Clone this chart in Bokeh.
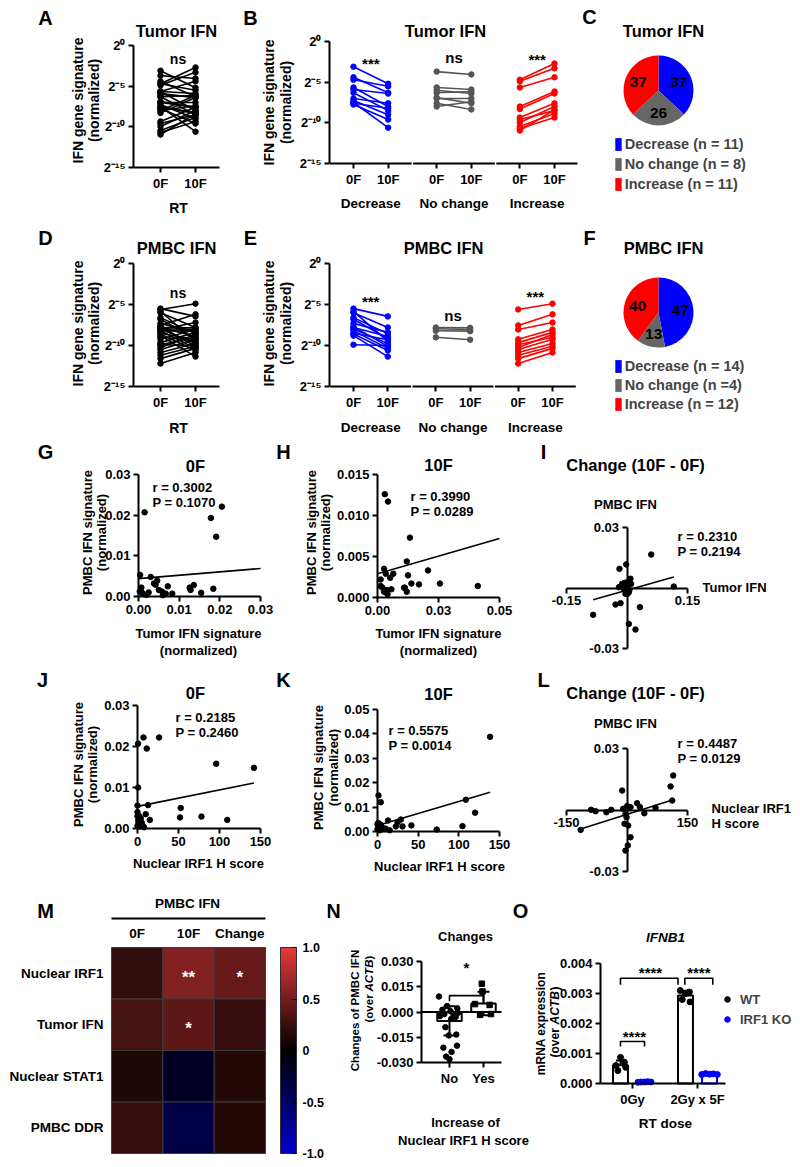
import math
import numpy as np
from bokeh.plotting import figure
from bokeh.layouts import row, column
from bokeh.models import (Range1d, FixedTicker, Label, Legend, LegendItem, Whisker, TeeHead,
                          ColumnDataSource, LinearColorMapper, PrintfTickFormatter,
                          CustomJSTickFormatter)
from bokeh.core.properties import value
from bokeh.embed import file_html
from bokeh.resources import INLINE

FONT = "Liberation Sans"
BLUE = "#0000ff"
RED = "#ff0000"
GRAY = "#555555"
PIE_GRAY = "#666666"
TITLE = 16.5

# ======================= DATA =======================
# log2 of normalized IFN gene signature, paired 0F -> 10F
tumor_dec_0f = [-3.1, -4.4, -4.7, -5.65, -5.9, -6.3, -7.0, -7.25, -7.5, -7.6, -7.75]
tumor_dec_10f = [-5.2, -6.3, -5.5, -8.0, -6.4, -8.5, -7.6, -9.0, -10.6, -8.2, -9.6]
tumor_nc_0f = [-3.7, -5.65, -6.0, -6.3, -6.9, -7.0, -7.6, -8.0]
tumor_nc_10f = [-4.05, -5.9, -6.4, -6.15, -7.6, -7.0, -8.35, -7.4]
tumor_inc_0f = [-4.7, -4.9, -5.65, -8.0, -8.3, -9.35, -9.6, -9.95, -10.45, -10.7, -10.95]
tumor_inc_10f = [-2.7, -3.3, -4.4, -6.15, -6.4, -7.6, -8.5, -8.0, -8.85, -9.35, -8.4]

pmbc_dec_0f = [-5.5, -5.85, -6.0, -6.6, -6.8, -7.3, -7.7, -7.8, -8.0, -8.2, -8.5, -8.6, -8.8, -9.9]
pmbc_dec_10f = [-6.45, -9.5, -7.8, -8.55, -9.15, -8.4, -10.1, -8.9, -9.75, -10.35, -9.3, -10.6, -11.35, -10.0]
pmbc_nc_0f = [-7.8, -7.95, -8.2, -9.0]
pmbc_nc_10f = [-7.85, -8.05, -8.25, -9.3]
pmbc_inc_0f = [-5.6, -7.55, -8.05, -9.25, -9.65, -9.9, -10.25, -10.5, -10.85, -11.2, -11.6, -12.2]
pmbc_inc_10f = [-4.9, -6.2, -7.2, -8.05, -8.4, -9.0, -8.65, -9.25, -9.75, -10.1, -10.35, -10.85]

group_names = ["Decrease", "No change", "Increase"]
time_labels = ["0F", "10F"]
log2_ticks = [-15, -10, -5, 0]
log2_tick_labels = ["2\u207b\u00b9\u2075", "2\u207b\u00b9\u2070", "2\u207b\u2075", "2\u2070"]

tumor_sig = ["***", "ns", "***"]
pmbc_sig = ["***", "ns", "***"]

tumor_pie_pct = [37, 26, 37]
tumor_pie_labels = ["Decrease (n = 11)", "No change (n = 8)", "Increase (n = 11)"]
pmbc_pie_pct = [47, 13, 40]
pmbc_pie_labels = ["Decrease (n = 14)", "No change (n =4)", "Increase (n = 12)"]

# G: 0F tumor vs PMBC
g_tumor = [0.0015, 0.0205, 0.0178, 0.0191, 0.0004, 0.0030, 0.0007, 0.0012, 0.0038, 0.0042,
           0.0046, 0.0050, 0.0058, 0.0067, 0.0072, 0.0083, 0.0126, 0.0128, 0.0136, 0.0154,
           0.0184, 0.0003, 0.0009, 0.0020, 0.0025, 0.0060]
g_pmbc = [0.0207, 0.0221, 0.0193, 0.0147, 0.0053, 0.0048, 0.0022, 0.0006, 0.0032, 0.0029,
          0.0039, 0.0016, 0.0012, 0.0007, 0.0025, 0.0007, 0.0022, 0.0016, 0.0028, 0.0009,
          0.0019, 0.0012, 0.0009, 0.0004, 0.0010, 0.0003]
g_fit = [0.0044, 0.083]
g_stats = ["r = 0.3002", "P = 0.1070"]

# H: 10F tumor vs PMBC
h_tumor = [0.0030, 0.0043, 0.0133, 0.0120, 0.0027, 0.0013, 0.0034, 0.0065, 0.0052, 0.0125,
           0.0139, 0.0112, 0.0120, 0.0020, 0.0027, 0.0041, 0.0057, 0.0013, 0.0039, 0.0207,
           0.0170, 0.0256, 0.0411, 0.0109]
h_pmbc = [0.0126, 0.0117, 0.0073, 0.0044, 0.0035, 0.0022, 0.0029, 0.0029, 0.0024, 0.0027,
          0.0017, 0.0012, 0.0007, 0.0012, 0.0007, 0.0004, 0.0010, 0.0014, 0.0009, 0.0033,
          0.0016, 0.0017, 0.0014, 0.0012]
h_fit = [0.0029, 0.0857]
h_stats = ["r = 0.3990", "P = 0.0289"]

# I: change tumor vs change PMBC
i_tumor = [0.060, -0.0186, -0.002, 0.0087, 0.0005, -0.012, -0.020, -0.008, 0.0045, -0.0037,
           0.116, -0.0285, -0.016, 0.032, -0.084, 0.0045, 0.021, 0.002, -0.004, 0.006,
           -0.001, 0.010, -0.006, 0.001]
i_pmbc = [0.0166, 0.0095, 0.0117, 0.0046, 0.0029, 0.0021, 0.0004, -0.0004, -0.0021, -0.0029,
          0.0007, -0.0082, -0.0075, -0.0095, -0.0133, -0.0178, -0.0206, 0.0010, 0.0015, -0.0010,
          -0.0005, 0.0020, 0.0025, -0.0030]
i_fit = [-0.0011, 0.0568]
i_stats = ["r = 0.2310", "P = 0.2194"]

# J: nuclear IRF1 H score vs PMBC IFN at 0F
j_irf1 = [0.7, 7.3, 11.3, 26.3, 96, 142, 0.7, 0, 12.9, 10, 15, 52.7, 51.9, 78, 109.5,
          0, 0, 1, 2, 3, 5, 6, 8, 4, 1, 0, 2]
j_pmbc = [0.0207, 0.0222, 0.0195, 0.0222, 0.0158, 0.0148, 0.0100, 0.0056, 0.0057, 0.0035,
          0.0021, 0.0050, 0.0027, 0.0029, 0.0021, 0.0040, 0.0030, 0.0020, 0.0010, 0.0005,
          0.0015, 0.0008, 0.0003, 0.0025, 0.0012, 0.0006, 0.0030]
j_fit = [0.0054, 0.000040]
j_stats = ["r = 0.2185", "P = 0.2460"]

# K: 10F
k_irf1 = [1.2, 4, 13, 24.6, 28.7, 22.5, 30.7, 41.7, 72.9, 138.4, 108.6, 120, 104.5,
          0, 1, 2, 0, 3, 5, 8, 1, 4, 10, 15]
k_pmbc = [0.0148, 0.0120, 0.0045, 0.0038, 0.0049, 0.0021, 0.0021, 0.0025, 0.0008, 0.0388,
          0.0130, 0.0077, 0.0022, 0.0030, 0.0020, 0.0015, 0.0010, 0.0005, 0.0020, 0.0010,
          0.0035, 0.0028, 0.0012, 0.0005]
k_fit = [0.0025, 0.000098]
k_stats = ["r = 0.5575", "P = 0.0014"]

# L: change
l_irf1 = [114.5, 108, 112, -12, 25, -89, -78, -51, -39, -9.5, 0.5, 8.7, 32, 43, 70.7,
          -3.7, -1.2, -6.2, 3, 8.7, -115, 2, -3.7]
l_pmbc = [0.0168, 0.0115, 0.0046, 0.0095, 0.0033, 0.0001, -0.0006, -0.0011, 0.0001, 0.0006,
          0.0019, 0.0014, 0.0014, -0.0016, 0.0011, -0.0019, -0.0035, -0.0067, -0.0076, -0.0133,
          -0.0097, -0.0173, -0.0198]
l_fit = [-0.0021, 0.0000619]
l_stats = ["r = 0.4487", "P = 0.0129"]

# M: correlation heatmap (r)
heat_rows = ["Nuclear IRF1", "Tumor IFN", "Nuclear STAT1", "PMBC DDR"]
heat_cols = ["0F", "10F", "Change"]
heat_r = [[0.2185, 0.5575, 0.4487],
          [0.3002, 0.3990, 0.2310],
          [0.13, -0.18, 0.16],
          [0.24, -0.35, 0.16]]
heat_sig = [["", "**", "*"],
            ["", "*", ""],
            ["", "", ""],
            ["", "", ""]]
cbar_ticks = [-1, -0.5, 0, 0.5, 1]

# N: change of PMBC IFN by IRF1 increase
n_groups = ["No", "Yes"]
n_mean = [-0.0053, 0.0050]
n_sd = [0.0087, 0.0070]
n_no = [0.0092, 0.0035, 0.0022, 0.0013, 0.0005, -0.0005, -0.0012, -0.0017, -0.0024, -0.0030,
        -0.0041, -0.0090, -0.0134, -0.0139, -0.0200, -0.0212, -0.0237, -0.0265, -0.0280]
n_no_dx = [-0.31, -0.07, 0.23, -0.21, 0.03, 0.25, -0.15, 0.12, -0.28, 0.18,
           0.05, -0.12, 0.20, -0.02, 0.22, -0.18, 0.06, -0.10, 0.0]
n_yes = [0.0168, 0.0122, 0.0047, 0.0042, -0.0012, -0.0017]
n_yes_dx = [-0.05, -0.03, -0.25, 0.18, 0.22, -0.10]

# O: IFNB1 mRNA
o_groups = ["0Gy", "2Gy x 5F"]
o_wt_mean = [0.00061, 0.00293]
o_wt_sd = [0.00016, 0.00016]
o_ko_mean = [0.00005, 0.00031]
o_ko_sd = [0.00001, 0.00002]
o_wt_pts = [[0.00087, 0.00071, 0.00060, 0.00054, 0.00043],
            [0.00310, 0.00305, 0.00300, 0.00280, 0.00272]]
o_ko_pts = [[0.00004, 0.00005, 0.00005, 0.00006, 0.00005],
            [0.00030, 0.00033, 0.00031, 0.00032, 0.00030]]
o_wt_dx = [[0.0, 0.06, -0.07, 0.08, -0.04], [-0.08, 0.06, 0.0, -0.05, 0.07]]
o_ko_dx = [[-0.10, -0.05, 0.0, 0.05, 0.10], [-0.12, -0.06, 0.0, 0.06, 0.12]]


# ======================= HELPERS =======================
class Panel:
    """A figure whose plotting frame is its whole canvas; page pixel <-> data maps."""

    def __init__(self, ox, oy, W, H, xmap, ymap, **kw):
        self.ox, self.oy, self.W, self.H = ox, oy, W, H
        self.xmap, self.ymap = xmap, ymap
        xr = Range1d(self.X(ox), self.X(ox + W))
        yr = Range1d(self.Y(oy + H), self.Y(oy))
        p = figure(width=W, height=H, x_range=xr, y_range=yr, output_backend="svg",
                   toolbar_location=None, min_border=0, min_border_left=0,
                   min_border_right=0, min_border_top=0, min_border_bottom=0, **kw)
        p.title.visible = False
        p.outline_line_color = None
        p.grid.visible = False
        p.background_fill_color = "white"
        p.border_fill_color = "white"
        self.p = p

    def X(self, px):
        p0, v0, p1, v1 = self.xmap
        return v0 + (px - p0) * (v1 - v0) / (p1 - p0)

    def Y(self, py):
        p0, v0, p1, v1 = self.ymap
        return v0 + (py - p0) * (v1 - v0) / (p1 - p0)

    def txt(self, x, y, s, size=13, align="center", angle=0.0, style_="bold", color="black"):
        self.p.add_layout(Label(x=x - self.ox, y=self.oy + self.H - y, x_units="screen",
                                y_units="screen", text=s, text_font=FONT,
                                text_font_style=style_, text_font_size=f"{size}px",
                                text_align=align, text_baseline="middle", angle=angle,
                                text_color=color))

    def axes(self, x_at, xb, y_at, yb, size=13, standoff=3):
        p = self.p
        for ax in p.axis:
            ax.axis_line_width = 2
            ax.axis_line_color = "black"
            ax.major_tick_line_width = 2
            ax.major_tick_line_color = "black"
            ax.major_tick_out = 5
            ax.major_tick_in = 0
            ax.minor_tick_line_color = None
            ax.major_label_text_font = FONT
            ax.major_label_text_font_style = "bold"
            ax.major_label_text_font_size = f"{size}px"
            ax.major_label_text_color = "black"
            ax.major_label_standoff = standoff
        p.xaxis.fixed_location = x_at
        p.xaxis.bounds = xb
        p.yaxis.fixed_location = y_at
        p.yaxis.bounds = yb


def dlabel(p, x, y, s, size=14, color="black"):
    p.add_layout(Label(x=x, y=y, text=s, text_font=FONT, text_font_style="bold",
                       text_font_size=f"{size}px", text_align="center", text_baseline="middle",
                       text_color=color))


def paired(p, x0, x1, v0, v1, color):
    p.multi_line(xs=[[x0, x1] for _ in v0], ys=[[a, b] for a, b in zip(v0, v1)],
                 line_color=color, line_width=1.6)
    p.scatter(x=[x0] * len(v0) + [x1] * len(v1), y=list(v0) + list(v1), size=5.5, color=color)


def corr(p, xv, yv, fit, xext):
    p.scatter(xv, yv, size=5.5, color="black")
    xs = np.array(xext, dtype=float)
    p.line(xs, fit[0] + fit[1] * xs, line_width=1.6, color="black")


def log_axis(p):
    p.yaxis.ticker = FixedTicker(ticks=log2_ticks)
    p.yaxis.major_label_overrides = dict(zip(log2_ticks, log2_tick_labels))


# ---------- paired panel (A / D) ----------
def panel_all(oy, H, y_top, y_bot, letter, title, all0, all1, sig_y, lab_y, rt_y, letter_y,
              title_y):
    P = Panel(0, oy, 240, H, (160, 0, 195, 1), (y_top, 0, y_bot, -15))
    p = P.p
    P.axes(-15, (P.X(133), P.X(219)), P.X(133), (-15, 0))
    log_axis(p)
    p.xaxis.ticker = FixedTicker(ticks=[0, 1])
    p.xaxis.major_label_overrides = {0: time_labels[0], 1: time_labels[1]}
    paired(p, 0, 1, all0, all1, "black")
    dlabel(p, 0.5, P.Y(sig_y), "ns", 14)
    P.txt(45, letter_y, letter, 20)
    P.txt(176, title_y, title, TITLE)
    P.txt(77, lab_y, "IFN gene signature", 14, angle=math.pi / 2)
    P.txt(93, lab_y, "(normalized)", 14, angle=math.pi / 2)
    P.txt(178, rt_y, "RT", 14)
    return p


GSTEP, PGAP = 24, 10


def panel_groups(oy, H, y_top, y_bot, x_last, x_end, letter, title, title_x, groups0, groups1,
                 sig, sig_px, lab_y, grp_y, letter_y, title_y):
    P = Panel(240, oy, 340, H, (353, 0, x_last, 2 * GSTEP + PGAP), (y_top, 0, y_bot, -15))
    p = P.p
    xa, xb = P.X(329), P.X(x_end)
    P.axes(-15, (xa, xb), xa, (-15, 0))
    log_axis(p)
    ticks, over = [], {}
    for k in range(3):
        ticks += [k * GSTEP, k * GSTEP + PGAP]
        over[k * GSTEP] = time_labels[0]
        over[k * GSTEP + PGAP] = time_labels[1]
    p.xaxis.ticker = FixedTicker(ticks=ticks)
    p.xaxis.major_label_overrides = over
    p.xaxis.axis_line_color = None
    centers = [k * GSTEP + PGAP / 2 for k in range(3)]
    half = 11.8
    x0s = [max(c - half, xa) for c in centers]
    x1s = [min(c + half, xb) for c in centers]
    p.segment(x0=x0s, y0=[-15] * 3, x1=x1s, y1=[-15] * 3, line_width=2, line_color="black")
    for k, col in enumerate([BLUE, GRAY, RED]):
        paired(p, k * GSTEP, k * GSTEP + PGAP, groups0[k], groups1[k], col)
        dlabel(p, centers[k], P.Y(sig_px[k]), sig[k], 15)
    inv = (x_last - 353) / (2 * GSTEP + PGAP)
    for k in range(3):
        P.txt(353 + centers[k] * inv, grp_y, group_names[k], 13.5)
    P.txt(250, letter_y, letter, 20)
    P.txt(title_x, title_y, title, TITLE)
    P.txt(268, lab_y, "IFN gene signature", 14, angle=math.pi / 2)
    P.txt(285, lab_y, "(normalized)", 14, angle=math.pi / 2)
    return p


def panel_pie(oy, H, cy, letter, title, pct, labels, letter_y, title_y, leg_top, leg_h):
    P = Panel(580, oy, 218, H, (658, 0, 693, 1), (cy, 0, cy - 35, 1))
    p = P.p
    p.axis.visible = False
    cum = np.cumsum([0] + pct)
    starts = [math.radians(90 - 3.6 * c) for c in cum[:-1]]
    ends = [math.radians(90 - 3.6 * c) for c in cum[1:]]
    src = ColumnDataSource(dict(start=starts, end=ends, color=[BLUE, PIE_GRAY, RED]))
    r = p.wedge(x=0, y=0, radius=1, start_angle="start", end_angle="end", direction="clock",
                fill_color="color", line_color=None, source=src)
    mids = [(a + b) / 2 for a, b in zip(starts, ends)]
    p.text(x=[0.63 * math.cos(m) for m in mids], y=[0.63 * math.sin(m) for m in mids],
           text=[str(v) for v in pct], text_font=value(FONT), text_font_style="bold",
           text_font_size="15.5px", text_align="center", text_baseline="middle",
           text_color="black")
    items = [LegendItem(label=l, renderers=[r], index=i) for i, l in enumerate(labels)]
    leg = Legend(items=items, location=(613.7 - 580, (oy + H) - (leg_top + 3 * leg_h)),
                 orientation="vertical", glyph_width=8, glyph_height=16, label_height=leg_h,
                 label_standoff=3, spacing=0, padding=0, margin=0, border_line_color=None,
                 background_fill_alpha=0, label_text_font=FONT, label_text_font_style="bold",
                 label_text_font_size="14.5px")
    p.add_layout(leg)
    P.txt(589, letter_y, letter, 20)
    P.txt(663, title_y, title, TITLE)
    return p


# ======================= ROW 1 / 2 =======================
pA = panel_all(0, 222, 45, 167, "A", "Tumor IFN",
               tumor_dec_0f + tumor_nc_0f + tumor_inc_0f,
               tumor_dec_10f + tumor_nc_10f + tumor_inc_10f, 58, 100, 207, 17, 30)
pB = panel_groups(0, 222, 41, 163, 554, 577, "B", "Tumor IFN", 445,
                  [tumor_dec_0f, tumor_nc_0f, tumor_inc_0f],
                  [tumor_dec_10f, tumor_nc_10f, tumor_inc_10f],
                  tumor_sig, [63, 57, 59], 102, 203, 17, 30)
pC = panel_pie(0, 222, 90, "C", "Tumor IFN", tumor_pie_pct, tumor_pie_labels, 16, 30, 134, 20)

pD = panel_all(222, 218, 263, 386, "D", "PMBC IFN",
               pmbc_dec_0f + pmbc_nc_0f + pmbc_inc_0f,
               pmbc_dec_10f + pmbc_nc_10f + pmbc_inc_10f, 292, 323, 427, 237, 247)
pE = panel_groups(222, 218, 263, 386, 552, 576, "E", "PMBC IFN", 443,
                  [pmbc_dec_0f, pmbc_nc_0f, pmbc_inc_0f],
                  [pmbc_dec_10f, pmbc_nc_10f, pmbc_inc_10f],
                  pmbc_sig, [301, 315, 296], 323, 427, 237, 247)
pF = panel_pie(222, 218, 312, "F", "PMBC IFN", pmbc_pie_pct, pmbc_pie_labels, 237, 247, 356.5, 19)

# ======================= ROW 3 =======================
G = Panel(0, 440, 275, 220, (138, 0, 260, 0.03), (596, 0, 474, 0.03))
G.axes(0, (0, 0.03), 0, (0, 0.03))
G.p.xaxis.ticker = FixedTicker(ticks=[0, 0.01, 0.02, 0.03])
G.p.yaxis.ticker = FixedTicker(ticks=[0, 0.01, 0.02, 0.03])
G.p.xaxis.formatter = PrintfTickFormatter(format="%.2f")
G.p.yaxis.formatter = PrintfTickFormatter(format="%.2f")
corr(G.p, g_tumor, g_pmbc, g_fit, [0, 0.03])
G.txt(45, 451, "G", 20)
G.txt(195, 465, "0F", TITLE)
G.txt(152, 487, g_stats[0], 13, align="left")
G.txt(152, 502, g_stats[1], 13, align="left")
G.txt(87, 532, "PMBC IFN signature", 13, angle=math.pi / 2)
G.txt(101, 532, "(normalized)", 13, angle=math.pi / 2)
G.txt(198, 633, "Tumor IFN signature", 13)
G.txt(198, 650, "(normalized)", 13)

Hh = Panel(275, 440, 255, 220, (377, 0, 499, 0.05), (597, 0, 474, 0.015))
Hh.axes(0, (0, 0.05), 0, (0, 0.015))
Hh.p.xaxis.ticker = FixedTicker(ticks=[0, 0.025, 0.05])
Hh.p.xaxis.formatter = CustomJSTickFormatter(code="return tick.toFixed(2);")
Hh.p.yaxis.ticker = FixedTicker(ticks=[0, 0.005, 0.01, 0.015])
Hh.p.yaxis.formatter = PrintfTickFormatter(format="%.3f")
corr(Hh.p, h_tumor, h_pmbc, h_fit, [0, 0.05])
Hh.txt(283, 451, "H", 20)
Hh.txt(438, 464, "10F", TITLE)
Hh.txt(410, 496, h_stats[0], 13, align="left")
Hh.txt(410, 511, h_stats[1], 13, align="left")
Hh.txt(311, 532, "PMBC IFN signature", 13, angle=math.pi / 2)
Hh.txt(325, 532, "(normalized)", 13, angle=math.pi / 2)
Hh.txt(438, 633, "Tumor IFN signature", 13)
Hh.txt(438, 650, "(normalized)", 13)


def panel_change(oy, y_top, y_bot, letter, xlim, ylim, xv, yv, fit, stats, xfmt, yl_y, stat_y,
                 xlabel_lines, xlabel_x, xlabel_y, letter_y, title_y):
    P = Panel(530, oy, 268, 220, (566, -xlim, 687, xlim), (y_bot, -ylim, y_top, ylim))
    p = P.p
    P.axes(0, (-xlim, xlim), 0, (-ylim, ylim))
    p.xaxis.ticker = FixedTicker(ticks=[-xlim, xlim])
    p.yaxis.ticker = FixedTicker(ticks=[-ylim, ylim])
    p.xaxis.formatter = PrintfTickFormatter(format=xfmt)
    p.yaxis.formatter = PrintfTickFormatter(format="%.2f")
    corr(p, xv, yv, fit, [min(xv), max(xv)])
    P.txt(543, letter_y, letter, 20)
    P.txt(635, title_y, "Change (10F - 0F)", TITLE)
    P.txt(625, yl_y, "PMBC IFN", 13)
    P.txt(677, stat_y, stats[0], 13, align="left")
    P.txt(677, stat_y + 15, stats[1], 13, align="left")
    for k, s in enumerate(xlabel_lines):
        P.txt(xlabel_x, xlabel_y + 15 * k, s, 13, align="left")
    return p


pI = panel_change(440, 527, 648, "I", 0.15, 0.03, i_tumor, i_pmbc, i_fit, i_stats, "%.2f",
                  504, 536, ["Tumor IFN"], 702, 587, 451, 464)

# ======================= ROW 4 =======================
J = Panel(0, 660, 275, 220, (137, 0, 260, 150), (828, 0, 705, 0.03))
J.axes(0, (0, 150), 0, (0, 0.03))
J.p.xaxis.ticker = FixedTicker(ticks=[0, 50, 100, 150])
J.p.yaxis.ticker = FixedTicker(ticks=[0, 0.01, 0.02, 0.03])
J.p.yaxis.formatter = PrintfTickFormatter(format="%.2f")
corr(J.p, j_irf1, j_pmbc, j_fit, [0, max(j_irf1)])
J.txt(42, 679, "J", 20)
J.txt(195, 692, "0F", TITLE)
J.txt(175, 717, j_stats[0], 13, align="left")
J.txt(175, 732, j_stats[1], 13, align="left")
J.txt(78, 764, "PMBC IFN signature", 13, angle=math.pi / 2)
J.txt(92, 764, "(normalized)", 13, angle=math.pi / 2)
J.txt(198, 863, "Nuclear IRF1 H score", 13)

K = Panel(275, 660, 255, 220, (377, 0, 499, 150), (831, 0, 709, 0.05))
K.axes(0, (0, 150), 0, (0, 0.05))
K.p.xaxis.ticker = FixedTicker(ticks=[0, 50, 100, 150])
K.p.yaxis.ticker = FixedTicker(ticks=[0, 0.01, 0.02, 0.03, 0.04, 0.05])
K.p.yaxis.formatter = PrintfTickFormatter(format="%.2f")
corr(K.p, k_irf1, k_pmbc, k_fit, [0, max(k_irf1)])
K.txt(283, 679, "K", 20)
K.txt(438, 693, "10F", TITLE)
K.txt(388, 730, k_stats[0], 13, align="left")
K.txt(388, 745, k_stats[1], 13, align="left")
K.txt(318, 767, "PMBC IFN signature", 13, angle=math.pi / 2)
K.txt(333, 767, "(normalized)", 13, angle=math.pi / 2)
K.txt(439, 866, "Nuclear IRF1 H score", 13)

pL = panel_change(660, 748, 871, "L", 150, 0.03, l_irf1, l_pmbc, l_fit, l_stats, "%d",
                  723, 743, ["Nuclear IRF1", "H score"], 711, 808, 679, 692)

# ======================= ROW 5 =======================
def heat_palette(n=256):
    pal = []
    for i in range(n):
        t = -1 + 2 * i / (n - 1)
        if t < 0:
            c = (0, 0, int(round(205 * -t)))
        else:
            c = (int(round(230 * t)), int(round(58 * t)), int(round(58 * t)))
        pal.append("#%02x%02x%02x" % c)
    return pal


mapper = LinearColorMapper(palette=heat_palette(), low=-1, high=1)

M = Panel(0, 880, 272, 285, (111, -0.5, 265, 2.5), (1153, -0.5, 947, 3.5))
M.axes(M.Y(1153), (-0.5, 2.5), -0.5, (-0.5, 3.5))
M.p.xaxis.visible = False
nrow = len(heat_rows)
hx, hy, hr, hs = [], [], [], []
for i, rname in enumerate(heat_rows):
    for j, cname in enumerate(heat_cols):
        hx.append(j); hy.append(nrow - 1 - i); hr.append(heat_r[i][j]); hs.append(heat_sig[i][j])
CELL = (1153 - 947) / 4.0
hsrc = ColumnDataSource(dict(x=hx, y=hy, r=hr, s=hs, ys=[v - 4 / CELL for v in hy]))
M.p.rect(x="x", y="y", width=1, height=1, source=hsrc,
         fill_color={"field": "r", "transform": mapper}, line_color="#3c3c3c", line_width=1)
M.p.text(x="x", y="ys", text="s", source=hsrc, text_font=value(FONT), text_font_style="bold",
         text_font_size="17px", text_align="center", text_baseline="middle", text_color="white")
for j, cname in enumerate(heat_cols):
    M.txt(111 + (j + 0.5) * (265 - 111) / 3, 933, cname, 13.5)
M.p.yaxis.ticker = FixedTicker(ticks=list(range(nrow)))
M.p.yaxis.major_label_overrides = {nrow - 1 - i: n for i, n in enumerate(heat_rows)}
M.p.yaxis.axis_line_color = None
M.p.yaxis.major_tick_line_color = None
M.p.yaxis.major_tick_out = 0
M.p.yaxis.major_label_standoff = 8
M.p.yaxis.major_label_text_font_size = "13.5px"
M.p.segment(x0=[-0.5], y0=[M.Y(918)], x1=[2.5], y1=[M.Y(918)], line_width=2, line_color="black")
M.txt(45, 910, "M", 20)
M.txt(187, 903, "PMBC IFN", 13.5)

CB = Panel(272, 880, 55, 285, (280, 0, 296, 1), (1153, -1, 947, 1), y_axis_location="right")
CB.axes(-1, (0, 1), 1, (-1, 1), size=12.5, standoff=6)
CB.p.xaxis.visible = False
CB.p.image(image=[np.linspace(-1, 1, 256).reshape(256, 1)], x=0, y=-1, dw=1, dh=2,
           color_mapper=mapper)
CB.p.quad(left=[0], right=[1], bottom=[-1], top=[1], fill_color=None, line_color="#303030",
          line_width=1)
CB.p.yaxis.ticker = FixedTicker(ticks=cbar_ticks)
CB.p.yaxis.formatter = CustomJSTickFormatter(
    code="return tick == 0 ? '0' : tick.toFixed(1);")
CB.p.yaxis.axis_line_color = None
CB.p.yaxis.major_tick_out = 0
CB.p.yaxis.major_tick_in = 4
CB.p.yaxis.major_tick_line_width = 1

# N
N = Panel(327, 880, 203, 285, (449, 0, 483, 1), (961, 0.03, 1062, -0.03))
na, nb = N.X(421), N.X(501)
N.axes(-0.03, (na, nb), na, (-0.03, 0.03))
N.p.yaxis.ticker = FixedTicker(ticks=[-0.03, -0.015, 0, 0.015, 0.03])
N.p.yaxis.formatter = PrintfTickFormatter(format="%.3f")
N.p.xaxis.ticker = FixedTicker(ticks=[0, 1])
N.p.xaxis.major_label_overrides = {0: n_groups[0], 1: n_groups[1]}
N.p.vbar(x=[0, 1], top=n_mean, bottom=0, width=0.72, fill_color="white", line_color="black",
         line_width=2)
N.p.segment(x0=[na], y0=[0], x1=[nb], y1=[0], line_width=2, line_color="black")
N.p.scatter([0 + d for d in n_no_dx], n_no, size=5.5, color="black")
N.p.scatter([1 + d for d in n_yes_dx], n_yes, size=5.5, color="black", marker="square")
nsrc = ColumnDataSource(dict(x=[0, 1], upper=[m + s for m, s in zip(n_mean, n_sd)],
                             lower=[m - s for m, s in zip(n_mean, n_sd)]))
N.p.add_layout(Whisker(source=nsrc, base="x", upper="upper", lower="lower", line_width=2,
                       line_color="black",
                       upper_head=TeeHead(size=12, line_width=2, line_color="black"),
                       lower_head=TeeHead(size=12, line_width=2, line_color="black")))
N.p.line([0, 0, 1, 1], [0.0064, 0.0097, 0.0097, 0.0064], line_width=1.6, color="black")
dlabel(N.p, 0.5, N.Y(967), "*", 15)
N.txt(333, 910, "N", 20)
N.txt(520, 910, "O", 20)
N.txt(465, 936, "Changes", 13)
N.txt(354, 1010, "Changes of PMBC IFN", 11.5, angle=math.pi / 2)
N.txt(368, 1022, "(over", 11.5, align="left", angle=math.pi / 2)
N.txt(368, 991, "ACTB", 11.5, align="left", angle=math.pi / 2, style_="bold italic")
N.txt(368, 959, ")", 11.5, align="left", angle=math.pi / 2)
N.txt(465, 1122, "Increase of", 13)
N.txt(463, 1140, "Nuclear IRF1 H score", 13)

# O
O = Panel(530, 880, 268, 285, (632, 1, 697, 2), (1083, 0, 963, 0.004))
oa, ob = O.X(600), O.X(725)
O.axes(0, (oa, ob), oa, (0, 0.004))
O.p.yaxis.ticker = FixedTicker(ticks=[0, 0.001, 0.002, 0.003, 0.004])
O.p.yaxis.formatter = PrintfTickFormatter(format="%.3f")
O.p.xaxis.ticker = FixedTicker(ticks=[1, 2])
O.p.xaxis.major_label_overrides = {1: o_groups[0], 2: o_groups[1]}
WT_OFF, KO_OFF, BW = -0.185, 0.185, 0.23
gx = [1, 2]
O.p.vbar(x=[x + WT_OFF for x in gx], top=o_wt_mean, width=BW, fill_color="white",
         line_color="black", line_width=2)
O.p.vbar(x=[x + KO_OFF for x in gx], top=o_ko_mean, width=BW, fill_color="white",
         line_color=BLUE, line_width=2)
wx, wy, kx, ky = [], [], [], []
for k in range(2):
    wx += [gx[k] + WT_OFF + d for d in o_wt_dx[k]]; wy += o_wt_pts[k]
    kx += [gx[k] + KO_OFF + d for d in o_ko_dx[k]]; ky += o_ko_pts[k]
r_wt = O.p.scatter(wx, wy, size=6, color="black")
r_ko = O.p.scatter(kx, ky, size=6, color=BLUE)
for off, mean, sd, col in [(WT_OFF, o_wt_mean, o_wt_sd, "black"),
                           (KO_OFF, o_ko_mean, o_ko_sd, BLUE)]:
    src = ColumnDataSource(dict(x=[x + off for x in gx],
                                upper=[m + s for m, s in zip(mean, sd)],
                                lower=[m - s for m, s in zip(mean, sd)]))
    O.p.add_layout(Whisker(source=src, base="x", upper="upper", lower="lower", line_width=2,
                           line_color=col,
                           upper_head=TeeHead(size=9, line_width=2, line_color=col),
                           lower_head=TeeHead(size=9, line_width=2, line_color=col)))
O.p.line([1 + WT_OFF] * 2 + [1 + KO_OFF] * 2, [0.00123, 0.0014, 0.0014, 0.00123],
         line_width=1.6, color="black")
O.p.line([1 + WT_OFF, 1 + WT_OFF, 1.70, 1.70], [0.00329, 0.00351, 0.00351, 0.00329],
         line_width=1.6, color="black")
O.p.line([1.805, 1.805, 2.235, 2.235], [0.00329, 0.00351, 0.00351, 0.00329],
         line_width=1.6, color="black")
dlabel(O.p, 1.03, O.Y(1036), "****", 15)
dlabel(O.p, 1.277, O.Y(972), "****", 15)
dlabel(O.p, 2.02, O.Y(972), "****", 15)
legO = Legend(items=[LegendItem(label="WT", renderers=[r_wt]),
                     LegendItem(label="IRF1 KO", renderers=[r_ko])],
              location=(720 - 530, 1165 - 1029), glyph_width=14, glyph_height=14,
              label_height=20, label_standoff=6, spacing=0, padding=0, margin=0,
              border_line_color=None, background_fill_alpha=0, label_text_font=FONT,
              label_text_font_style="bold", label_text_font_size="13px")
O.p.add_layout(legO)
O.txt(665, 937, "IFNB1", 13.5, style_="bold italic")
O.txt(540, 1023, "mRNA expression", 12, angle=math.pi / 2)
O.txt(554, 1057, "(over", 12, align="left", angle=math.pi / 2)
O.txt(554, 1024, "ACTB", 12, align="left", angle=math.pi / 2, style_="bold italic")
O.txt(554, 990, ")", 12, align="left", angle=math.pi / 2)
O.txt(665, 1123, "RT dose", 13.5)

layout = column(row(pA, pB, pC), row(pD, pE, pF), row(G.p, Hh.p, pI), row(J.p, K.p, pL),
                row(M.p, CB.p, N.p, O.p))
open("out.html", "w").write(file_html(layout, INLINE))
